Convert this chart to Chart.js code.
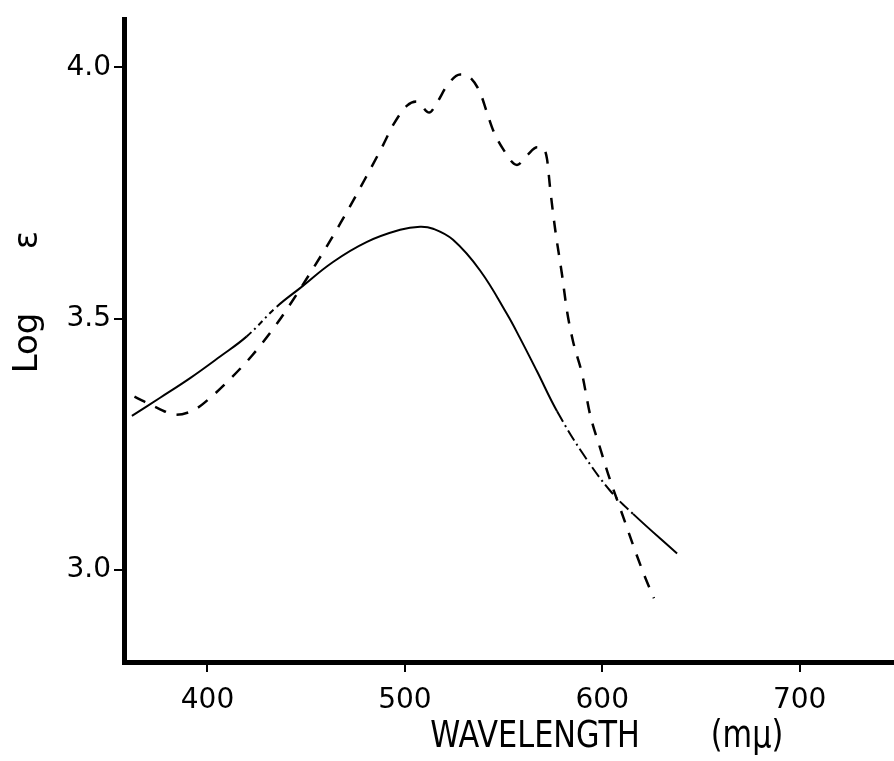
<!DOCTYPE html>
<html><head><meta charset="utf-8">
<script src="https://cdn.jsdelivr.net/npm/chart.js@4/dist/chart.umd.min.js"></script>
<style>html,body{margin:0;padding:0;background:#fff;overflow:hidden}#wrap{width:894px;height:761px;position:relative}</style>
</head><body><div id="wrap"><canvas id="c" width="894" height="761"></canvas></div>
<script>
const xTicks = [400, 500, 600, 700];
const yTicks = [3.0, 3.5, 4.0];
const solidX = [361.7, 376.0, 391.2, 406.4, 419.9, 435.1, 446.9, 463.6, 480.8, 497.6, 507.7, 514.3, 524.4, 538.1, 551.8, 558.4, 567.0, 577.1, 590.3, 604.0, 615.6, 637.9];
const solidY = [3.307, 3.343, 3.382, 3.425, 3.465, 3.524, 3.561, 3.613, 3.653, 3.677, 3.683, 3.679, 3.657, 3.596, 3.509, 3.461, 3.395, 3.316, 3.231, 3.158, 3.112, 3.033];
const dashX = [363.0, 375.0, 384.1, 393.8, 402.3, 409.9, 422.6, 435.3, 453.5, 467.2, 479.8, 488.9, 494.0, 501.1, 506.0, 512.3, 516.3, 521.4, 528.0, 533.0, 538.1, 541.6, 544.7, 549.7, 556.8, 561.9, 567.0, 569.5, 572.0, 573.6, 576.1, 579.6, 582.2, 585.2, 589.8, 593.8, 598.9, 602.9, 611.6, 616.6, 621.7, 626.2];
const dashY = [3.345, 3.322, 3.309, 3.320, 3.346, 3.374, 3.427, 3.491, 3.600, 3.689, 3.778, 3.845, 3.885, 3.924, 3.932, 3.910, 3.930, 3.964, 3.986, 3.980, 3.950, 3.910, 3.875, 3.838, 3.806, 3.825, 3.841, 3.841, 3.818, 3.759, 3.679, 3.588, 3.514, 3.455, 3.390, 3.310, 3.243, 3.192, 3.095, 3.039, 2.986, 2.944];
const xTitle = 'WAVELENGTH';
const xUnit = '(mμ)';
const yTitle = 'Log';
const yUnit = 'ε';

const toPts = (xs, ys) => xs.map((x, i) => ({x: x, y: ys[i]}));

const titles = {
  id: 'titles',
  afterDraw(chart) {
    const ctx = chart.ctx;
    ctx.save();
    ctx.fillStyle = '#000';
    ctx.textAlign = 'center';
    ctx.textBaseline = 'middle';
    ctx.font = '37px "DejaVu Sans"';
    ctx.save(); ctx.translate(535, 737); ctx.scale(0.82, 1); ctx.fillText(xTitle, 0, 0); ctx.restore();
    ctx.save(); ctx.translate(747, 737); ctx.scale(0.82, 1); ctx.fillText(xUnit, 0, 0); ctx.restore();
    ctx.font = '34px "DejaVu Sans"';
    ctx.textBaseline = 'alphabetic';
    ctx.save(); ctx.translate(37, 343); ctx.rotate(-Math.PI / 2); ctx.fillText(yTitle, 0, 0); ctx.restore();
    ctx.save(); ctx.translate(37, 240); ctx.rotate(-Math.PI / 2); ctx.fillText(yUnit, 0, 0); ctx.restore();
    ctx.restore();
  }
};

new Chart(document.getElementById('c'), {
  type: 'scatter',
  data: {
    datasets: [
      {
        data: toPts(solidX, solidY), showLine: true, borderColor: '#000', borderWidth: 2,
        pointRadius: 0, tension: 0.4, fill: false,
        segment: {
          borderDash: c => {
            const x = c.p0.parsed.x;
            if (x >= 419 && x < 435) return [6, 4, 2, 4];
            if (x >= 576 && x < 615) return [12, 4, 2, 4];
            return undefined;
          }
        }
      },
      {
        data: toPts(dashX, dashY), showLine: true, borderColor: '#000', borderWidth: 2.5,
        borderDash: [12, 11], pointRadius: 0, cubicInterpolationMode: 'monotone', fill: false
      }
    ]
  },
  options: {
    responsive: false, animation: false, devicePixelRatio: 1,
    layout: {padding: {top: 17, left: 0, right: 0, bottom: 0}},
    plugins: {legend: {display: false}, tooltip: {enabled: false}},
    scales: {
      x: {
        type: 'linear', min: 357.7, max: 747.8,
        afterFit: s => { s.height = 99; },
        afterBuildTicks: s => { s.ticks = xTicks.map(v => ({value: v})); },
        grid: {display: true, drawOnChartArea: false, drawTicks: true, tickLength: 10, color: '#000', lineWidth: 2},
        border: {display: true, color: '#000', width: 5},
        ticks: {color: '#000', font: {family: 'DejaVu Sans', size: 28}, padding: 12, maxRotation: 0, autoSkip: false, callback: v => String(v)}
      },
      y: {
        type: 'linear', min: 2.8174, max: 4.0946,
        afterFit: s => { s.width = 124; },
        afterBuildTicks: s => { s.ticks = yTicks.map(v => ({value: v})); },
        grid: {display: true, drawOnChartArea: false, drawTicks: true, tickLength: 10, color: '#000', lineWidth: 2},
        border: {display: true, color: '#000', width: 5},
        ticks: {color: '#000', font: {family: 'DejaVu Sans', size: 28}, padding: 3, autoSkip: false, callback: v => v.toFixed(1)}
      }
    }
  },
  plugins: [titles]
});
</script>
</body></html>
